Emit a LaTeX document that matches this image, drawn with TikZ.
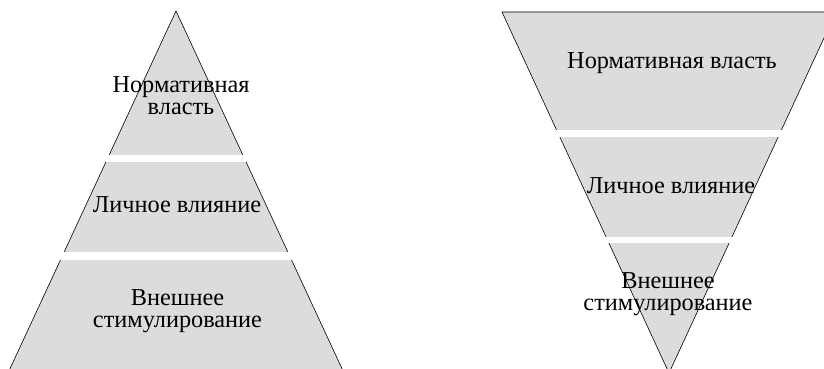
\documentclass[tikz,border=0pt]{standalone}
\usepackage{fontspec}
\setmainfont{Liberation Serif}
\definecolor{pyrfill}{RGB}{220,220,220}
\tikzset{
  lbl/.style={font=\fontsize{24.3}{22}\selectfont, align=center, inner sep=0pt, anchor=base},
  tri/.style={fill=pyrfill, draw=black, line width=0.6pt},
  gap/.style={fill=white, draw=none}
}
\begin{document}
\begin{tikzpicture}[x=1pt,y=-1pt]
\useasboundingbox (0,0) rectangle (824,369);
\clip (0,0) rectangle (824,369);
% left pyramid
\coordinate (LA) at (176,11);
\coordinate (LL) at (8,373);
\coordinate (LR) at (344,373);
\draw[tri] (LA) -- (LR) -- (LL) -- cycle;
\fill[gap] (0,155) rectangle (400,162);
\fill[gap] (0,252) rectangle (400,260);
% right inverted pyramid
\coordinate (RL) at (502,12);
\coordinate (RR) at (836,12);
\coordinate (RA) at (669,373);
\draw[tri] (RL) -- (RR) -- (RA) -- cycle;
\fill[gap] (450,130) rectangle (824,137);
\fill[gap] (450,237) rectangle (824,243);
% labels left
\node[lbl] (l1) at (181,114) {Нормативная\\власть};
\node[lbl] (l2) at (177,212) {Личное влияние};
\node[lbl] (l3) at (177.5,327) {Внешнее\\стимулирование};
% labels right
\node[lbl] (r1) at (672,68) {Нормативная власть};
\node[lbl] (r2) at (671,193) {Личное влияние};
\node[lbl] (r3) at (668,310) {Внешнее\\стимулирование};
\end{tikzpicture}
\end{document}
